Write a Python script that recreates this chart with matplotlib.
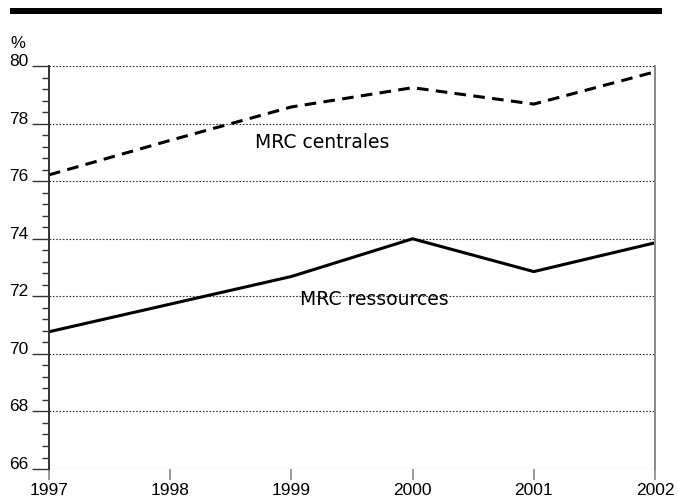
"""
Share of population in MRC centrales vs MRC ressources, 1997-2002.
"""

import matplotlib.pyplot as plt
from matplotlib.ticker import MultipleLocator

years = [1997, 1998, 1999, 2000, 2001, 2002]
centrales = [76.22, 77.42, 78.58, 79.25, 78.68, 79.8]
ressources = [70.77, 71.73, 72.69, 74.0, 72.86, 73.86]

yticks = [66, 68, 70, 72, 74, 76, 78, 80]

fig = plt.figure(figsize=(6.78, 4.97), dpi=100)
ax = fig.add_axes([0.0723, 0.0563, 0.8937, 0.8107])

ax.plot(years, centrales, color="black", lw=2.2, dashes=(3.8, 2.4),
        solid_capstyle="butt", dash_capstyle="butt")
ax.plot(years, ressources, color="black", lw=2.2, solid_joinstyle="miter")

ax.set_xlim(1997, 2002)
ax.set_ylim(66, 80)
ax.set_xticks(years)
ax.set_yticks(yticks)
ax.yaxis.set_minor_locator(MultipleLocator(0.4))

for y in yticks:
    ax.axhline(y, color="#333333", lw=0.8, linestyle=(0, (1.5, 1.5)), zorder=0)

for side in ("top", "bottom"):
    ax.spines[side].set_visible(False)
ax.spines["left"].set_color("#333333")
ax.spines["left"].set_linewidth(1.4)
ax.spines["right"].set_color("#888888")
ax.spines["right"].set_linewidth(1.4)

ax.tick_params(axis="y", which="major", length=12, width=1.0, color="#333333",
               pad=3, labelsize=12.5)
ax.tick_params(axis="y", which="minor", length=5, width=1.0, color="#333333")
ax.tick_params(axis="x", which="major", length=8, width=1.2, color="#888888",
               pad=2, labelsize=12.5)
for lab in ax.get_yticklabels():
    lab.set_verticalalignment("baseline")
for lab in ax.get_xticklabels() + ax.get_yticklabels():
    lab.set_fontfamily("Liberation Sans")

ax.text(1998.70, 77.33, "MRC centrales", fontsize=13.5, family="DejaVu Sans",
        va="center", ha="left")
ax.text(1999.07, 71.9, "MRC ressources", fontsize=13.5, family="DejaVu Sans",
        va="center", ha="left")

# header bar and unit
fig.add_artist(plt.Rectangle((10 / 678, 1 - 14 / 497), 652 / 678, 6 / 497,
                             transform=fig.transFigure, color="black", lw=0))
fig.text(10 / 678, 1 - 43 / 497, "%", fontsize=12, family="Liberation Sans",
         va="center", ha="left")

plt.savefig("out.png", dpi=100)
